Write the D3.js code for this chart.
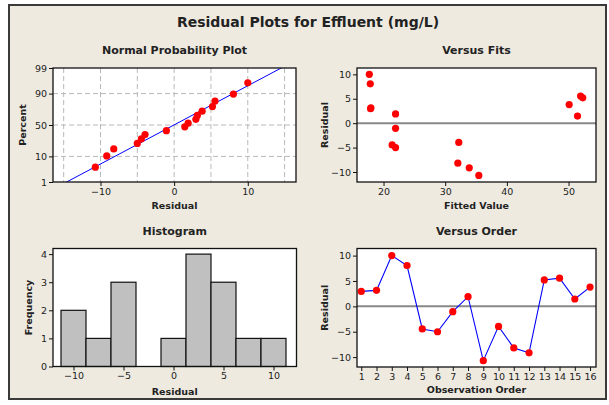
<!DOCTYPE html>
<html><head><meta charset="utf-8">
<script src="https://cdn.jsdelivr.net/npm/d3@7/dist/d3.min.js"></script>
<style>
html,body{margin:0;padding:0;background:#fff;}
svg{display:block;}
text{font-family:"DejaVu Sans",Verdana,sans-serif;fill:#222;}
</style></head>
<body>
<svg id="chart" width="609" height="405"></svg>
<script>
// ---- data ----
const title = "Residual Plots for Effluent (mg/L)";
const panelTitles = ["Normal Probability Plot", "Versus Fits", "Histogram", "Versus Order"];
const observationOrder = [1,2,3,4,5,6,7,8,9,10,11,12,13,14,15,16];
const residuals = [2.95, 3.15, 10.0, 8.05, -4.45, -5.0, -1.05, 1.9, -10.7, -3.95, -8.2, -9.15, 5.2, 5.55, 1.45, 3.8];
const fittedValues = [17.9, 17.95, 17.7, 17.85, 21.4, 21.95, 21.95, 21.95, 35.45, 32.2, 32.05, 33.9, 52.3, 51.95, 51.45, 50.1];
const histBinCenters = [-10, -7.5, -5, -2.5, 0, 2.5, 5, 7.5, 10];
const histCounts = [2, 1, 3, 0, 1, 4, 3, 1, 1];
const percentTicks = [1, 10, 50, 90, 99];
const residualTicks = [-10, 0, 10];
const residualGrid = [-15, -10, -5, 0, 5, 10, 15];
const fitTicks = [20, 30, 40, 50];
const resTicksY = [-10, -5, 0, 5, 10];
const histXTicks = [-10, -5, 0, 5, 10];
const freqTicks = [0, 1, 2, 3, 4];

const svg = d3.select("#chart");
const BG = "#EEEAE0";
const TICK_FS = "9.5px", LABEL_FS = "9.5px", SUB_FS = "11px";

// outer frame
svg.append("rect").attr("x", 9).attr("y", 5).attr("width", 597).attr("height", 394)
  .attr("fill", BG).attr("stroke", "#3a3a3a").attr("stroke-width", 2);

svg.append("text").attr("x", 308).attr("y", 27).attr("text-anchor", "middle")
  .style("font-size", "14px").style("font-weight", "bold").text(title);

// inverse normal
function qnorm(p) {
  const a=[-3.969683028665376e+01,2.209460984245205e+02,-2.759285104469687e+02,1.383577518672690e+02,-3.066479806614716e+01,2.506628277459239e+00];
  const b=[-5.447609879822406e+01,1.615858368580409e+02,-1.556989798598866e+02,6.680131188771972e+01,-1.328068155288572e+01];
  const c=[-7.784894002430293e-03,-3.223964580411365e-01,-2.400758277161838e+00,-2.549732539343734e+00,4.374664141464968e+00,2.938163982698783e+00];
  const d=[7.784695709041462e-03,3.224671290700398e-01,2.445134137142996e+00,3.754408661907416e+00];
  const pl=0.02425, ph=1-pl; let q,r;
  if (p<pl){q=Math.sqrt(-2*Math.log(p));return (((((c[0]*q+c[1])*q+c[2])*q+c[3])*q+c[4])*q+c[5])/((((d[0]*q+d[1])*q+d[2])*q+d[3])*q+1);}
  if (p>ph){q=Math.sqrt(-2*Math.log(1-p));return -(((((c[0]*q+c[1])*q+c[2])*q+c[3])*q+c[4])*q+c[5])/((((d[0]*q+d[1])*q+d[2])*q+d[3])*q+1);}
  q=p-0.5;r=q*q;return (((((a[0]*r+a[1])*r+a[2])*r+a[3])*r+a[4])*r+a[5])*q/(((((b[0]*r+b[1])*r+b[2])*r+b[3])*r+b[4])*r+1);
}

function panel(box, t) {
  const g = svg.append("g");
  g.append("rect").attr("x", box.l).attr("y", box.t).attr("width", box.r - box.l).attr("height", box.b - box.t)
    .attr("fill", "#fff");
  svg.append("text").attr("x", (box.l + box.r) / 2).attr("y", box.t - 14).attr("text-anchor", "middle")
    .style("font-size", SUB_FS).style("font-weight", "bold").text(t);
  return g;
}
function frame(g, box) {
  g.append("rect").attr("x", box.l).attr("y", box.t).attr("width", box.r - box.l).attr("height", box.b - box.t)
    .attr("fill", "none").attr("stroke", "#111").attr("stroke-width", 1.3);
}
function styleAxis(sel) {
  sel.selectAll(".domain").remove();
  sel.selectAll(".tick line").attr("stroke", "#111");
  sel.selectAll(".tick text").style("font-size", TICK_FS).attr("fill", "#333");
}
function xLabel(box, txt, y) {
  svg.append("text").attr("x", (box.l + box.r) / 2).attr("y", y).attr("text-anchor", "middle")
    .style("font-size", LABEL_FS).style("font-weight", "bold").text(txt);
}
function yLabel(x, box, txt) {
  svg.append("text").attr("transform", `translate(${x},${(box.t + box.b) / 2}) rotate(-90)`)
    .attr("text-anchor", "middle").style("font-size", LABEL_FS).style("font-weight", "bold").text(txt);
}
function clip(id, box) {
  svg.append("clipPath").attr("id", id).append("rect").attr("x", box.l).attr("y", box.t)
    .attr("width", box.r - box.l).attr("height", box.b - box.t);
}

// ---------- Panel 1: Normal probability ----------
{
  const box = {l: 53, r: 296, t: 68, b: 182};
  const g = panel(box, panelTitles[0]);
  const x = d3.scaleLinear().domain([-16.45, 16.55]).range([box.l, box.r]);
  const zMax = qnorm(0.99);
  const y = d3.scaleLinear().domain([-zMax, zMax]).range([box.b, box.t]);
  g.selectAll(".vg").data(residualGrid).join("line")
    .attr("x1", d => x(d)).attr("x2", d => x(d)).attr("y1", box.t).attr("y2", box.b)
    .attr("stroke", "#b8b8b8").attr("stroke-dasharray", "5,3").attr("stroke-width", 1);
  g.selectAll(".hg").data(percentTicks.slice(1, -1)).join("line")
    .attr("y1", d => y(qnorm(d / 100))).attr("y2", d => y(qnorm(d / 100))).attr("x1", box.l).attr("x2", box.r)
    .attr("stroke", "#b8b8b8").attr("stroke-dasharray", "5,3").attr("stroke-width", 1);
  clip("c1", box);
  const mu = d3.mean(residuals), sd = d3.deviation(residuals);
  g.append("line").attr("clip-path", "url(#c1)")
    .attr("x1", x(mu - 3 * sd)).attr("y1", y(-3)).attr("x2", x(mu + 3 * sd)).attr("y2", y(3))
    .attr("stroke", "#0000ff").attr("stroke-width", 1);
  const sorted = residuals.slice().sort((a, b) => a - b);
  const n = sorted.length;
  g.selectAll(".pt").data(sorted).join("circle")
    .attr("cx", d => x(d)).attr("cy", (d, i) => y(qnorm((i + 1 - 0.3) / (n + 0.4))))
    .attr("r", 3.6).attr("fill", "#ff0000");
  frame(g, box);
  styleAxis(svg.append("g").attr("transform", `translate(0,${box.b})`)
    .call(d3.axisBottom(x).tickValues(residualTicks).tickSize(4).tickPadding(2).tickFormat(d3.format("d"))));
  styleAxis(svg.append("g").attr("transform", `translate(${box.l},0)`)
    .call(d3.axisLeft(y).tickValues(percentTicks.map(p => qnorm(p / 100))).tickSize(4).tickPadding(2)
      .tickFormat((d, i) => percentTicks[i])));
  xLabel(box, "Residual", 209);
  yLabel(26, box, "Percent");
}

// ---------- Panel 2: Versus Fits ----------
{
  const box = {l: 357, r: 596, t: 68, b: 182};
  const g = panel(box, panelTitles[1]);
  const x = d3.scaleLinear().domain([15.7, 54.45]).range([box.l, box.r]);
  const y = d3.scaleLinear().domain([-12.05, 11.3]).range([box.b, box.t]);
  g.append("line").attr("x1", box.l).attr("x2", box.r).attr("y1", y(0)).attr("y2", y(0))
    .attr("stroke", "#888").attr("stroke-width", 2);
  g.selectAll(".pt").data(residuals).join("circle")
    .attr("cx", (d, i) => x(fittedValues[i])).attr("cy", d => y(d))
    .attr("r", 3.6).attr("fill", "#ff0000");
  frame(g, box);
  styleAxis(svg.append("g").attr("transform", `translate(0,${box.b})`)
    .call(d3.axisBottom(x).tickValues(fitTicks).tickSize(4).tickPadding(2).tickFormat(d3.format("d"))));
  styleAxis(svg.append("g").attr("transform", `translate(${box.l},0)`)
    .call(d3.axisLeft(y).tickValues(resTicksY).tickSize(4).tickPadding(2).tickFormat(d3.format("d"))));
  xLabel(box, "Fitted Value", 209);
  yLabel(328, box, "Residual");
}

// ---------- Panel 3: Histogram ----------
{
  const box = {l: 53, r: 296.5, t: 248.5, b: 366.5};
  const g = panel(box, panelTitles[2]);
  const x = d3.scaleLinear().domain([-12.05, 12.3]).range([box.l, box.r]);
  const y = d3.scaleLinear().domain([0, 4.2]).range([box.b, box.t]);
  const w = histBinCenters[1] - histBinCenters[0];
  g.selectAll(".bar").data(histBinCenters).join("rect")
    .attr("x", d => x(d - w / 2)).attr("width", d => x(d + w / 2) - x(d - w / 2))
    .attr("y", (d, i) => y(histCounts[i])).attr("height", (d, i) => y(0) - y(histCounts[i]))
    .attr("fill", "#c0c0c0").attr("stroke", "#111").attr("stroke-width", 1.2);
  frame(g, box);
  styleAxis(svg.append("g").attr("transform", `translate(0,${box.b})`)
    .call(d3.axisBottom(x).tickValues(histXTicks).tickSize(4).tickPadding(2).tickFormat(d3.format("d"))));
  styleAxis(svg.append("g").attr("transform", `translate(${box.l},0)`)
    .call(d3.axisLeft(y).tickValues(freqTicks).tickSize(4).tickPadding(2).tickFormat(d3.format("d"))));
  xLabel(box, "Residual", 395);
  yLabel(32, box, "Frequency");
}

// ---------- Panel 4: Versus Order ----------
{
  const box = {l: 357, r: 596, t: 248.5, b: 367};
  const g = panel(box, panelTitles[3]);
  const x = d3.scaleLinear().domain([0.72, 16.39]).range([box.l, box.r]);
  const y = d3.scaleLinear().domain([-11.95, 11.4]).range([box.b, box.t]);
  g.append("line").attr("x1", box.l).attr("x2", box.r).attr("y1", y(0)).attr("y2", y(0))
    .attr("stroke", "#888").attr("stroke-width", 2);
  g.append("path").datum(residuals)
    .attr("d", d3.line().x((d, i) => x(observationOrder[i])).y(d => y(d)))
    .attr("fill", "none").attr("stroke", "#0000ff").attr("stroke-width", 1.1);
  g.selectAll(".pt").data(residuals).join("circle")
    .attr("cx", (d, i) => x(observationOrder[i])).attr("cy", d => y(d))
    .attr("r", 3.6).attr("fill", "#ff0000");
  frame(g, box);
  styleAxis(svg.append("g").attr("transform", `translate(0,${box.b})`)
    .call(d3.axisBottom(x).tickValues(observationOrder).tickSize(4).tickPadding(2).tickFormat(d3.format("d"))));
  styleAxis(svg.append("g").attr("transform", `translate(${box.l},0)`)
    .call(d3.axisLeft(y).tickValues(resTicksY).tickSize(4).tickPadding(2).tickFormat(d3.format("d"))));
  xLabel(box, "Observation Order", 393);
  yLabel(328, box, "Residual");
}
</script>
</body></html>
